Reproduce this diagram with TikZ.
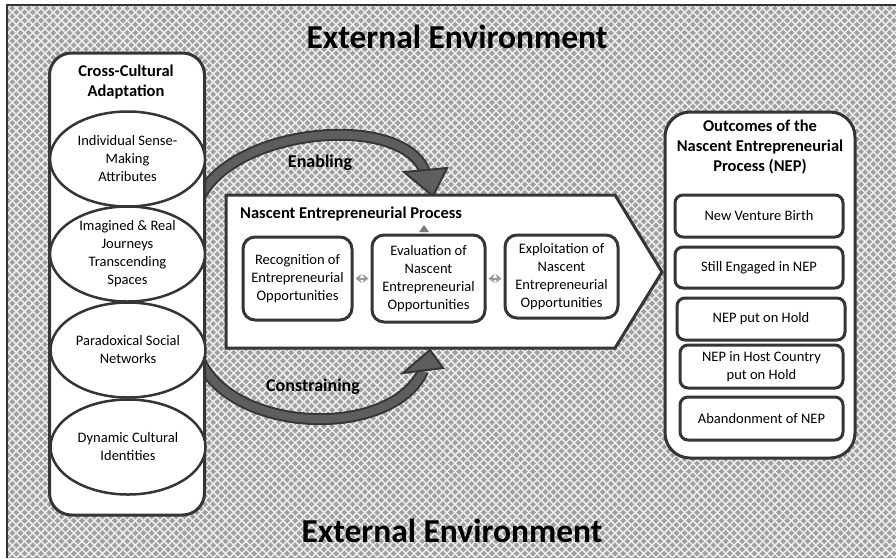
\documentclass[tikz,border=0pt]{standalone}
\usepackage{fontspec}
\setmainfont{Carlito}
\usetikzlibrary{shapes.geometric,arrows.meta}
\definecolor{bg}{HTML}{A0A0A0}
\definecolor{hatch}{HTML}{EDEDED}
\definecolor{edge}{HTML}{353535}
\definecolor{arrowfill}{HTML}{5E5E5E}
\definecolor{arrowedge}{HTML}{363636}
\definecolor{smallgray}{HTML}{9A9A9A}
\definecolor{tinygray}{HTML}{7A7A7A}
\begin{document}
\begin{tikzpicture}[x=1pt,y=-1pt,
  every node/.style={inner sep=0pt, font=\fontsize{14.5}{18}\selectfont, align=center, text=black},
  bigbox/.style={draw=edge, line width=3pt, fill=white, rounded corners=22pt},
  oval/.style={ellipse, draw=edge, line width=2.5pt, fill=white, minimum width=155pt, minimum height=95pt},
  procbox/.style={draw=edge, line width=3pt, fill=white, rounded corners=12pt},
  outbox/.style={draw=edge, line width=3pt, fill=white, rounded corners=8pt},
  heading/.style={font=\fontsize{16.5}{20}\selectfont\bfseries},
  envtitle/.style={font=\fontsize{33.5}{36}\selectfont\bfseries},
  flowlabel/.style={font=\fontsize{18}{20}\selectfont\bfseries},
  hatchline/.style={draw=hatch, line width=1.5pt},
  bigarrow/.style={draw=arrowedge, line width=2pt, double=arrowfill, double distance=8pt},
  bighead/.style={draw=arrowedge, fill=arrowfill, line width=2pt, line join=miter},
  smallarrow/.style={{Stealth[length=6pt,width=9pt]}-{Stealth[length=6pt,width=9pt]}, draw=smallgray, line width=2pt, shorten >=2pt, shorten <=2pt}
]
\useasboundingbox (0,0) rectangle (896,558);
\fill[white] (0,0) rectangle (896,558);
\fill[bg] (7,5) rectangle (896,558);
\begin{scope}
\clip (7,5) rectangle (896,558);
\foreach \k in {-70,...,180} {
  \draw[hatchline] (\k*8.2,0) -- ++(565,565);
  \draw[hatchline] (\k*8.2,0) -- ++(-565,565);
}
\end{scope}
\draw[edge, line width=1.5pt] (7,558) -- (7,5) -- (896,5);

\node[envtitle] (envtop) at (457,37) {External Environment};
\node[envtitle] (envbot) at (452,531) {External Environment};

% curved arrows
\coordinate (enS) at (196,207);
\coordinate (enE) at (425,172);
\coordinate (enTip) at (433,196);
\draw[bigarrow] (enS) .. controls (220,128) and (402,110) .. (enE);
\draw[bighead] (404,172) -- (447,168) -- (enTip) -- cycle;
\coordinate (coS) at (196,350);
\coordinate (coE) at (423,371);
\coordinate (coTip) at (430,350);
\draw[bigarrow] (coS) .. controls (220,434) and (390,442) .. (coE);
\draw[bighead] (403,373) -- (443,368) -- (coTip) -- cycle;

% process pentagon
\coordinate (nepA) at (226,195);
\coordinate (nepB) at (615,195);
\coordinate (nepC) at (662,272);
\coordinate (nepD) at (615,348);
\coordinate (nepE) at (226,348);
\draw[draw=edge, line width=3pt, fill=white, line join=miter] (nepA) -- (nepB) -- (nepC) -- (nepD) -- (nepE) -- cycle;
\node[heading, anchor=west] (nepT) at (240,214) {Nascent Entrepreneurial Process};
\fill[tinygray] (424,225) -- (429,232) -- (419,232) -- cycle;
\node[procbox, minimum width=109pt, minimum height=83pt] (rec) at (297.5,278.5) {Recognition of\\Entrepreneurial\\Opportunities};
\node[procbox, minimum width=113pt, minimum height=87pt] (eva) at (428.5,278.5) {Evaluation of\\Nascent\\Entrepreneurial\\Opportunities};
\node[procbox, minimum width=113pt, minimum height=83pt] (exp) at (561.5,276.5) {Exploitation of\\Nascent\\Entrepreneurial\\Opportunities};
\draw[smallarrow] (rec.east) -- (eva.west);
\draw[smallarrow] (eva.east) -- (eva.east -| exp.west);

% left box
\node[bigbox, minimum width=155pt, minimum height=462pt] (cca) at (127,284) {};
\node[heading] (ccaT) at (126,82) {Cross-Cultural\\Adaptation};
\node[oval] (e1) at (127.5,159) {};
\node (e1t) at (e1) {Individual Sense-\\Making\\Attributes};
\node[oval] (e2) at (127.5,254) {};
\node (e2t) at (e2) {Imagined \& Real\\Journeys\\Transcending\\Spaces};
\node[oval] (e3) at (128,350) {};
\node (e3t) at (e3) {Paradoxical Social\\Networks};
\node[oval] (e4) at (128,447) {};
\node (e4t) at (e4) {Dynamic Cultural\\Identities};

% labels
\node[flowlabel] (enL) at (320,163) {Enabling};
\node[flowlabel] (coL) at (313,387) {Constraining};

% outcomes
\node[bigbox, rounded corners=25pt, minimum width=190pt, minimum height=346pt] (out) at (760,285) {};
\node[heading] (outT) at (760,147) {Outcomes of the\\Nascent Entrepreneurial\\Process (NEP)};
\node[outbox, minimum width=168pt, minimum height=42pt] (o1) at (759,216) {New Venture Birth};
\node[outbox, minimum width=168pt, minimum height=41pt] (o2) at (759,267.5) {Still Engaged in NEP};
\node[outbox, minimum width=168pt, minimum height=42pt] (o3) at (761,319) {NEP put on Hold};
\node[outbox, minimum width=163pt, minimum height=43pt] (o4) at (761.5,366.5) {NEP in Host Country\\put on Hold};
\node[outbox, minimum width=163pt, minimum height=43pt] (o5) at (761.5,418.5) {Abandonment of NEP};
\end{tikzpicture}
\end{document}
